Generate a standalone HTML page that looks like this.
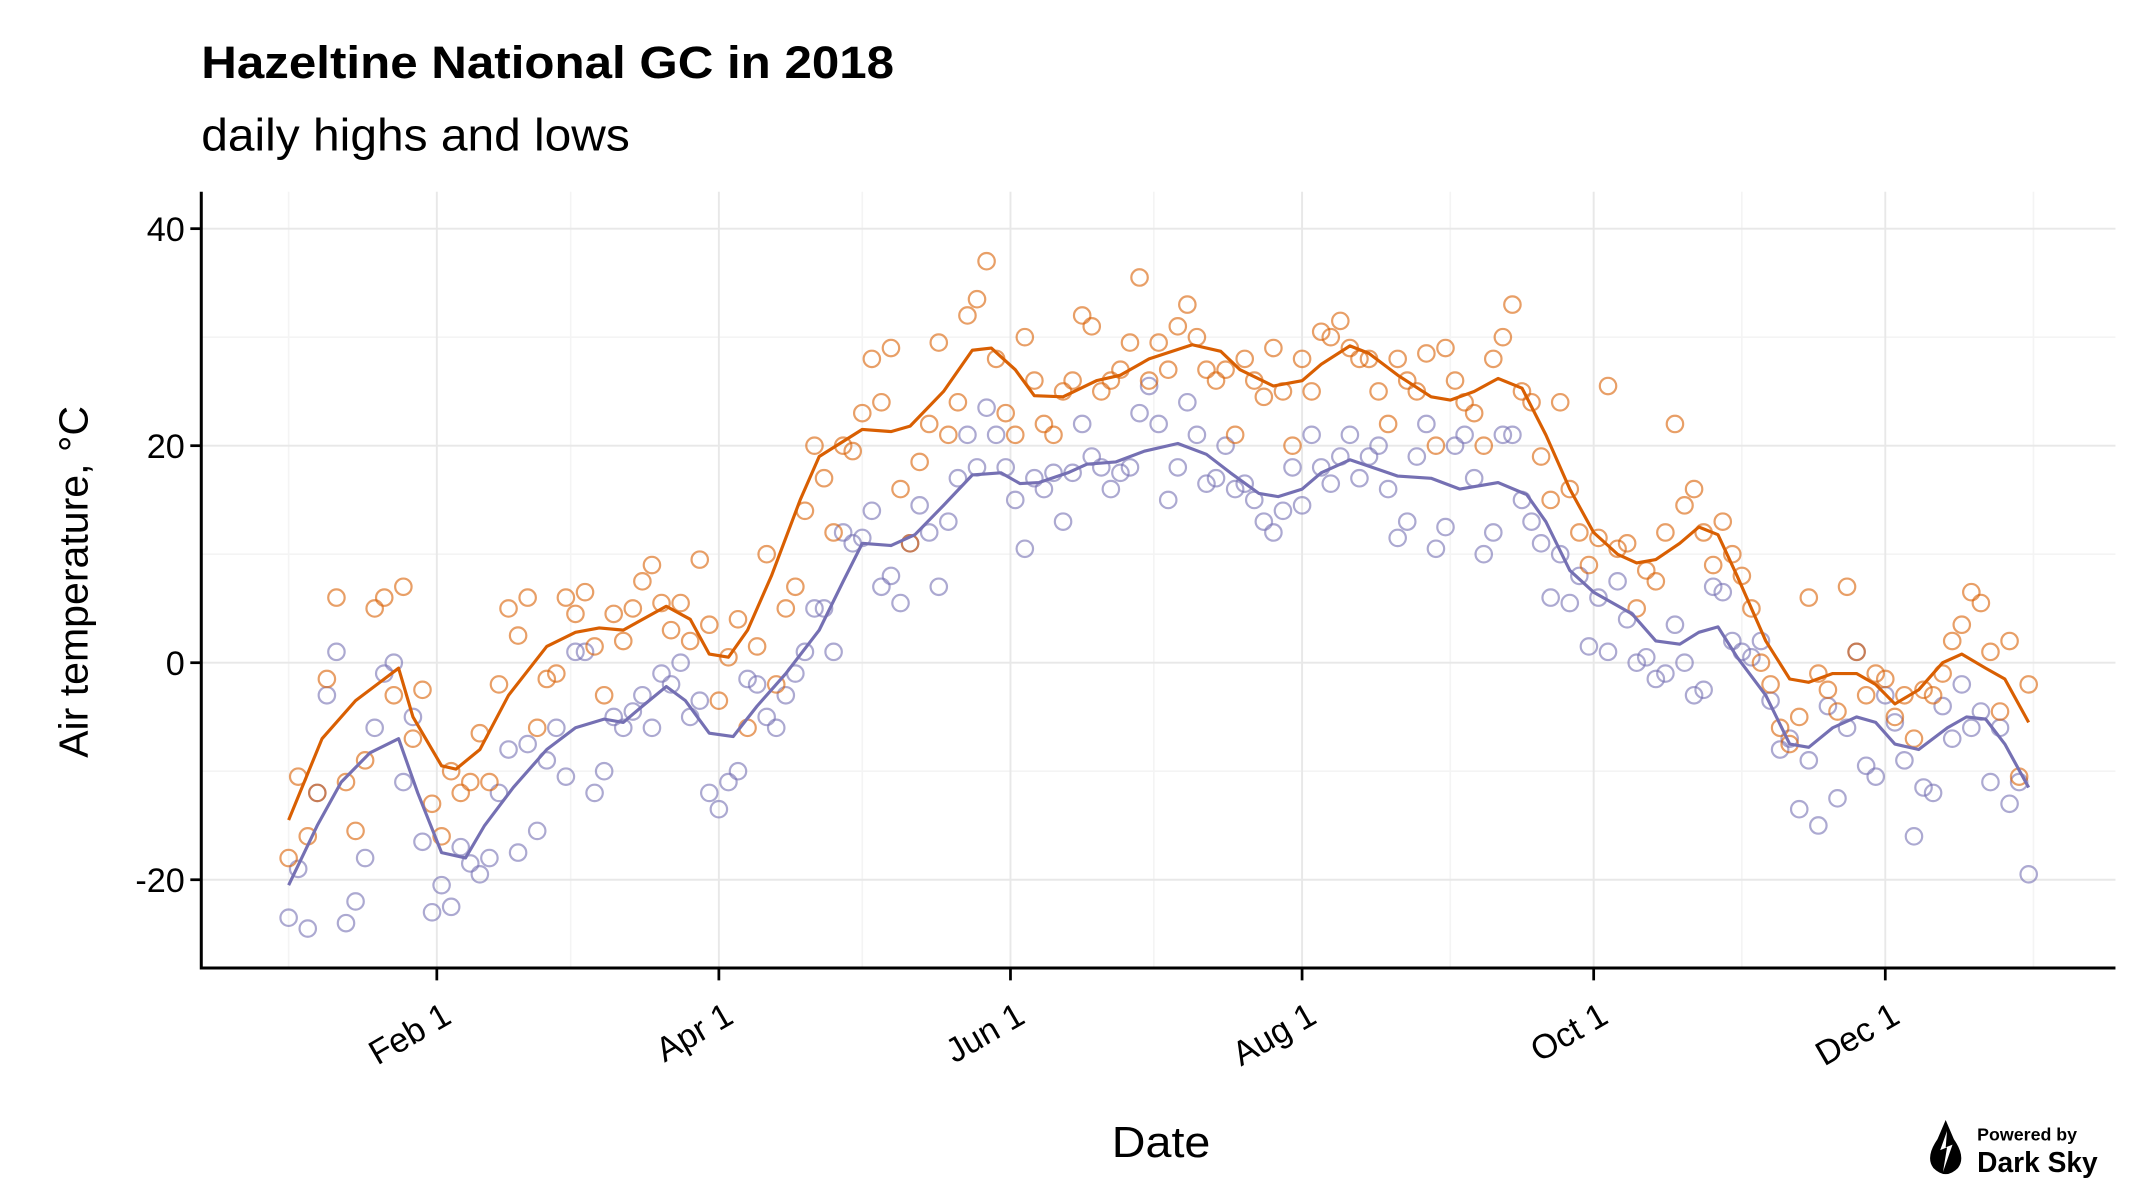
<!DOCTYPE html>
<html><head><meta charset="utf-8"><style>
html,body{margin:0;padding:0;background:#fff;}
svg{display:block;font-family:"Liberation Sans",sans-serif;}
</style></head><body>
<svg id="chart" width="2136" height="1200" viewBox="0 0 1560 876.4" preserveAspectRatio="none" xmlns="http://www.w3.org/2000/svg">
<text x="147" y="57" font-size="33" font-weight="bold" textLength="506" lengthAdjust="spacingAndGlyphs">Hazeltine National GC in 2018</text>
<text x="147" y="110" font-size="33" textLength="313" lengthAdjust="spacingAndGlyphs">daily highs and lows</text>
<g id="grid"></g>
<g id="marks"></g>
<g id="axes"></g>
<text transform="translate(64,425) rotate(-90)" text-anchor="middle" font-size="30">Air temperature, °C</text>
<text x="848" y="845" text-anchor="middle" font-size="32" textLength="72" lengthAdjust="spacingAndGlyphs">Date</text>
<g>
<path d="M1421 818 L1427 832 Q1436 845 1430 853 Q1421 862 1412 853 Q1406 845 1415 832 Z" fill="#000"/>
<path d="M1422 826 L1417 840 L1422 838 L1419 856 L1426 836 L1421 838 Z" fill="#fff"/>
<text x="1444" y="833" font-size="13" font-weight="bold">Powered by</text>
<text x="1444" y="856" font-size="21" font-weight="bold" textLength="88" lengthAdjust="spacingAndGlyphs">Dark Sky</text>
</g>
</svg>
<script>
const yTicks=[40,20,0,-20];
const monthLabels=["Feb 1","Apr 1","Jun 1","Aug 1","Oct 1","Dec 1"];
const monthDays=[31,90,151,212,273,334];
const minorDays=[0,59,120,181,243,304,365];
const smoothDays=[0,7,14,23,26,32,35,40,46,54,60,65,70,72,79,84,88,92,96,101,107,111,120,126,130,137,143,147,152,156,162,169,174,180,189,195,199,206,212,216,222,226,232,239,243,248,253,258,263,268,273,278,282,286,291,295,299,303,309,314,318,323,328,332,336,341,346,350,355,359,364];
const highSmooth=[-14.5,-7,-3.5,-0.5,-5,-9.5,-9.8,-8,-3,1.5,2.8,3.2,3,3.5,5.2,4,0.8,0.5,3,8,15,19,21.5,21.3,21.8,25,28.8,29,27,24.6,24.5,26,26.5,28,29.3,28.7,27,25.5,26,27.5,29.2,28.5,26.5,24.5,24.2,25,26.2,25.3,21,16,12,10,9.2,9.5,11,12.5,11.8,8,2,-1.5,-1.8,-1,-1,-2,-3.8,-2.5,0,0.8,-0.5,-1.5,-5.5];
const lowSmoothDays=[0,6,11,17,23,27,32,37,41,47,54,60,66,70,74,79,83,88,93,98,104,111,116,120,126,131,137,143,149,153,157,163,167,173,179,186,192,197,203,207,212,216,222,228,232,239,245,253,259,263,268,273,281,286,291,295,299,303,309,314,318,323,328,332,336,341,347,351,355,359,364];
const lowSmooth=[-20.5,-15,-11,-8.3,-7,-12,-17.5,-18,-15,-11.5,-8,-6,-5.2,-5.5,-4,-2.2,-3.5,-6.5,-6.8,-4,-1,3,7.5,11,10.8,11.8,14.5,17.3,17.5,16.5,16.6,17.5,18.3,18.5,19.5,20.2,19.2,17.5,15.6,15.3,16,17.5,18.7,17.8,17.2,17,16,16.6,15.5,13,8.5,6.5,4.5,2,1.7,2.8,3.3,0.5,-3,-7.5,-7.8,-6,-5,-5.5,-7.5,-8,-6,-5,-5.2,-7.5,-11.5];
const highs=[-18,-10.5,-16,-12,-1.5,6,-11,-15.5,-9,5,6,-3,7,-7,-2.5,-13,-16,-10,-12,-11,-6.5,-11,-2,5,2.5,6,-6,-1.5,-1,6,4.5,6.5,1.5,-3,4.5,2,5,7.5,9,5.5,3,5.5,2,9.5,3.5,-3.5,0.5,4,-6,1.5,10,-2,5,7,14,20,17,12,20,19.5,23,28,24,29,16,11,18.5,22,29.5,21,24,32,33.5,37,28,23,21,30,26,22,21,25,26,32,31,25,26,27,29.5,35.5,26,29.5,27,31,33,30,27,26,27,21,28,26,24.5,29,25,20,28,25,30.5,30,31.5,29,28,28,25,22,28,26,25,28.5,20,29,26,24,23,20,28,30,33,25,24,19,15,24,16,12,9,11.5,25.5,10.5,11,5,8.5,7.5,12,22,14.5,16,12,9,13,10,8,5,0,-2,-6,-7.5,-5,6,-1,-2.5,-4.5,7,1,-3,-1,-1.5,-5,-3,-7,-2.5,-3,-1,2,3.5,6.5,5.5,1,-4.5,2,-10.5,-2];
const lows=[-23.5,-19,-24.5,-12,-3,1,-24,-22,-18,-6,-1,0,-11,-5,-16.5,-23,-20.5,-22.5,-17,-18.5,-19.5,-18,-12,-8,-17.5,-7.5,-15.5,-9,-6,-10.5,1,1,-12,-10,-5,-6,-4.5,-3,-6,-1,-2,0,-5,-3.5,-12,-13.5,-11,-10,-1.5,-2,-5,-6,-3,-1,1,5,5,1,12,11,11.5,14,7,8,5.5,11,14.5,12,7,13,17,21,18,23.5,21,18,15,10.5,17,16,17.5,13,17.5,22,19,18,16,17.5,18,23,25.5,22,15,18,24,21,16.5,17,20,16,16.5,15,13,12,14,18,14.5,21,18,16.5,19,21,17,19,20,16,11.5,13,19,22,10.5,12.5,20,21,17,10,12,21,21,15,13,11,6,10,5.5,8,1.5,6,1,7.5,4,0,0.5,-1.5,-1,3.5,0,-3,-2.5,7,6.5,2,1,0.5,2,-3.5,-8,-7,-13.5,-9,-15,-4,-12.5,-6,1,-9.5,-10.5,-3,-5.5,-9,-16,-11.5,-12,-4,-7,-2,-6,-4.5,-11,-6,-13,-11,-19.5];
const pointStep=2;

const NS="http://www.w3.org/2000/svg";
const L=147,R=1545,T=140,B=707;
function xs(d){return 210.8+d*3.4913;}
function ys(v){return 484-v*7.925;}
function mk(tag,attrs,parent){const e=document.createElementNS(NS,tag);for(const k in attrs)e.setAttribute(k,attrs[k]);parent.appendChild(e);return e;}
const grid=document.getElementById('grid'),marks=document.getElementById('marks'),axes=document.getElementById('axes');
for(let i=0;i<yTicks.length-1;i++){const v=(yTicks[i]+yTicks[i+1])/2;const g=mk('line',{x1:L,x2:R,y1:ys(v),y2:ys(v),stroke:'#f4f4f4','stroke-width':1.2},grid);

}
minorDays.forEach(d=>{const g=mk('line',{x1:xs(d),x2:xs(d),y1:T,y2:B,stroke:'#f4f4f4','stroke-width':1.2},grid);

});
yTicks.forEach(v=>{const g=mk('line',{x1:L,x2:R,y1:ys(v),y2:ys(v),stroke:'#e8e8e8','stroke-width':1.4},grid);

});
monthDays.forEach(d=>{const g=mk('line',{x1:xs(d),x2:xs(d),y1:T,y2:B,stroke:'#e8e8e8','stroke-width':1.4},grid);

});
function drawPoints(arr,color,name){arr.forEach((v,i)=>{const c=mk('circle',{cx:xs(i*pointStep),cy:ys(v),r:6,fill:'none',stroke:color,'stroke-width':1.6,'stroke-opacity':0.6},marks);

});}
drawPoints(lows,'#7570b3','low-point');
drawPoints(highs,'#d95f02','high-point');
function drawLine(days,vals,color,name){const d=days.map((dd,i)=>(i?'L':'M')+xs(dd).toFixed(1)+' '+ys(vals[i]).toFixed(1)).join(' ');const p=mk('path',{d:d,fill:'none',stroke:color,'stroke-width':2.3,'stroke-linejoin':'round'},marks);

}
drawLine(lowSmoothDays,lowSmooth,'#7570b3','low-trend-line');
drawLine(smoothDays,highSmooth,'#d95f02','high-trend-line');
const ax=mk('path',{d:`M${L} ${T} L${L} ${B} L${R} ${B}`,fill:'none',stroke:'#000','stroke-width':2.2},axes);


yTicks.forEach(v=>{const t=mk('line',{x1:L-8,x2:L,y1:ys(v),y2:ys(v),stroke:'#000','stroke-width':2},axes);


const tx=mk('text',{x:L-12,y:ys(v)+9,'text-anchor':'end','font-size':25},axes);tx.textContent=String(v);

});
monthDays.forEach((d,i)=>{const t=mk('line',{x1:xs(d),x2:xs(d),y1:B,y2:B+9,stroke:'#000','stroke-width':2},axes);


const tx=mk('text',{transform:`translate(${xs(d)+2},${B+22}) rotate(-30)`,'text-anchor':'end','font-size':25,dy:'0.8em'},axes);tx.textContent=monthLabels[i];

});
</script>
</body></html>
